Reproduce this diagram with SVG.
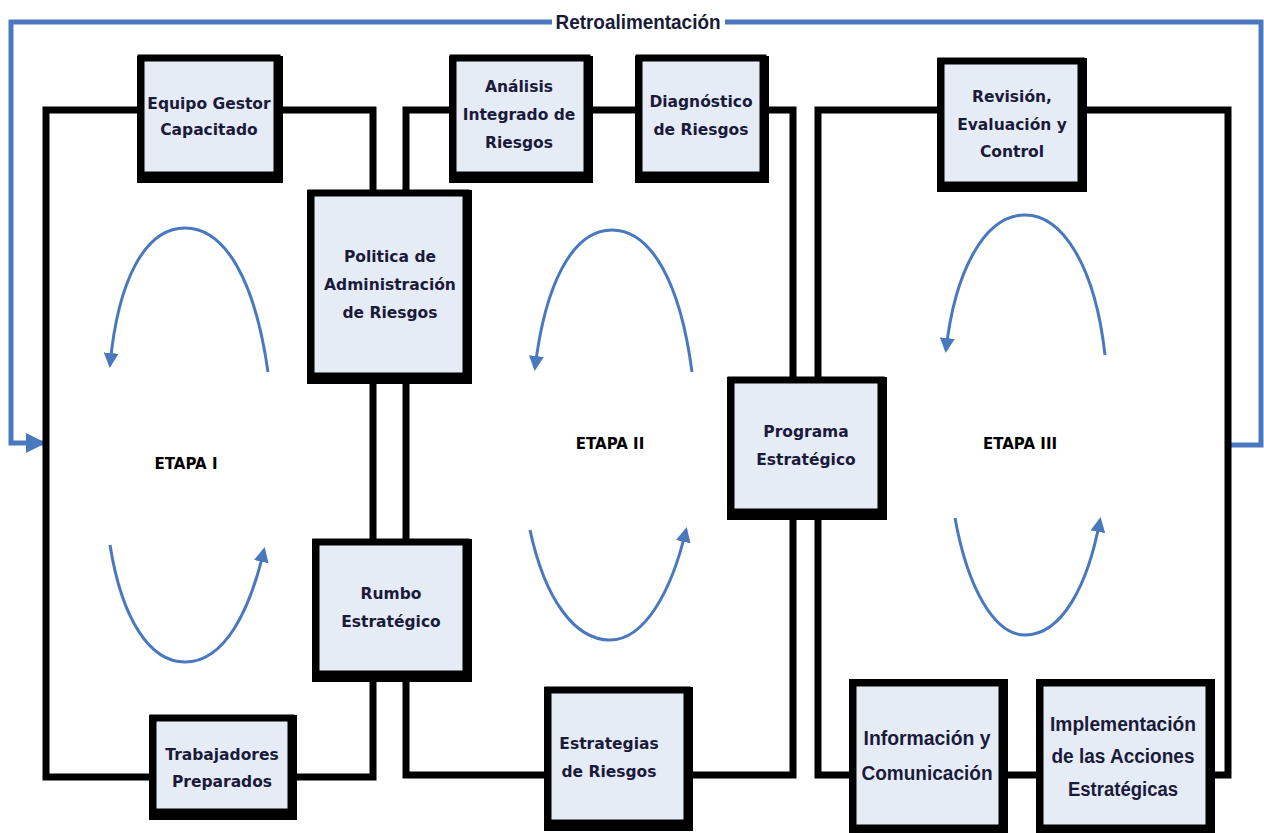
<svg xmlns="http://www.w3.org/2000/svg" width="1264" height="833" viewBox="0 0 1264 833">
<style>
.frame{fill:none;stroke:#000;stroke-width:7;stroke-linejoin:miter;stroke-linecap:square}
.fb{fill:none;stroke:#4A78BE;stroke-width:5}
.box{fill:#E6ECF6;stroke:#000;stroke-width:7}
.sh{fill:#000}
.t{font-family:"DejaVu Sans",Verdana,sans-serif;font-weight:bold;font-size:15.5px;fill:#1a1a3a;text-anchor:middle}
.a{font-family:"Liberation Sans",Arial,sans-serif;font-weight:bold;font-size:20px;fill:#1a1a3a;text-anchor:middle}
.et{font-family:"DejaVu Sans",Verdana,sans-serif;font-weight:bold;font-size:15px;fill:#000;text-anchor:middle}
.arc{fill:none;stroke:#4A78BE;stroke-width:3}
</style>
<defs>
<marker id="ah" viewBox="0 0 10 10" refX="8" refY="5" markerWidth="5" markerHeight="5" orient="auto" markerUnits="strokeWidth">
<path d="M0,0 L10,5 L0,10 z" fill="#4A78BE"/>
</marker>
<marker id="fbh" viewBox="0 0 10 10" refX="9" refY="5" markerWidth="4" markerHeight="4" orient="auto" markerUnits="strokeWidth">
<path d="M0,0 L10,5 L0,10 z" fill="#4A78BE"/>
</marker>
</defs>
<rect width="1264" height="833" fill="#fff"/>

<g id="connectors">
<path class="fb" d="M1228,445 H1261 V22 H11 V443 H44" marker-end="url(#fbh)"/>
<path class="frame" d="M373,190 V110 H46 V777 H373 V678"/>
<path class="frame" d="M373,380 V540"/>
<path class="frame" d="M406,190 V110 H793 V378"/>
<path class="frame" d="M406,380 V540"/>
<path class="frame" d="M406,678 V775 H793 V515"/>
<path class="frame" d="M818,378 V110 H1228 V775 H818 V515"/>
<path class="arc" d="M268,372 C255,280 225,228 185,228 C145,228 118,280 110,365" marker-end="url(#ah)"/>
<path class="arc" d="M110,545 C122,620 150,662 185,662 C225,662 250,610 264,550" marker-end="url(#ah)"/>
<path class="arc" d="M692,372 C680,280 650,230 612,230 C572,230 545,285 535,368" marker-end="url(#ah)"/>
<path class="arc" d="M530,530 C545,600 575,640 610,640 C645,640 672,590 686,530" marker-end="url(#ah)"/>
<path class="arc" d="M1105,355 C1095,265 1062,215 1025,215 C985,215 955,270 946,350" marker-end="url(#ah)"/>
<path class="arc" d="M955,518 C968,590 995,635 1025,635 C1062,635 1088,585 1100,520" marker-end="url(#ah)"/>
</g>

<rect x="552" y="10" width="173" height="24" fill="#fff"/>
<text class="a" x="638" y="29" textLength="165" lengthAdjust="spacingAndGlyphs">Retroalimentación</text>

<g id="n-equipo">
<rect class="sh" x="137" y="56" width="146" height="127"/>
<rect class="box" x="141" y="58" width="136" height="117"/>
<text class="t" x="209" y="109">Equipo Gestor</text>
<text class="t" x="209" y="135">Capacitado</text>
</g>
<g id="n-analisis">
<rect class="sh" x="449" y="56" width="144" height="127"/>
<rect class="box" x="453" y="58" width="134" height="117"/>
<text class="t" x="519" y="92">Análisis</text>
<text class="t" x="519" y="120">Integrado de</text>
<text class="t" x="519" y="148">Riesgos</text>
</g>
<g id="n-diagnostico">
<rect class="sh" x="635" y="56" width="134" height="127"/>
<rect class="box" x="639" y="58" width="124" height="117"/>
<text class="t" x="701" y="107">Diagnóstico</text>
<text class="t" x="701" y="135">de Riesgos</text>
</g>
<g id="n-revision">
<rect class="sh" x="937" y="58" width="150" height="134"/>
<rect class="box" x="941" y="61" width="140" height="124"/>
<text class="t" x="1012" y="102">Revisión,</text>
<text class="t" x="1012" y="130">Evaluación y</text>
<text class="t" x="1012" y="157">Control</text>
</g>
<g id="n-politica">
<rect class="sh" x="307" y="190" width="165" height="194"/>
<rect class="box" x="311" y="193" width="155" height="183"/>
<text class="t" x="390" y="262">Politica de</text>
<text class="t" x="390" y="290">Administración</text>
<text class="t" x="390" y="318">de Riesgos</text>
</g>
<g id="n-rumbo">
<rect class="sh" x="312" y="539" width="160" height="143"/>
<rect class="box" x="316" y="542" width="150" height="132"/>
<text class="t" x="391" y="599">Rumbo</text>
<text class="t" x="391" y="627">Estratégico</text>
</g>
<g id="n-trabajadores">
<rect class="sh" x="149" y="715" width="148" height="105"/>
<rect class="box" x="153" y="718" width="138" height="94"/>
<text class="t" x="222" y="760">Trabajadores</text>
<text class="t" x="222" y="787">Preparados</text>
</g>
<g id="n-estrategias">
<rect class="sh" x="544" y="687" width="149" height="144"/>
<rect class="box" x="548" y="690" width="139" height="133"/>
<text class="t" x="609" y="749">Estrategias</text>
<text class="t" x="609" y="777">de Riesgos</text>
</g>
<g id="n-programa">
<rect class="sh" x="727" y="377" width="160" height="143"/>
<rect class="box" x="731" y="380" width="150" height="132"/>
<text class="t" x="806" y="437">Programa</text>
<text class="t" x="806" y="465">Estratégico</text>
</g>
<g id="n-informacion">
<rect class="sh" x="849" y="679" width="159" height="154"/>
<rect class="box" x="853" y="683" width="149" height="145"/>
<text class="a" x="927" y="745" textLength="127" lengthAdjust="spacingAndGlyphs">Información y</text>
<text class="a" x="927" y="780" textLength="131" lengthAdjust="spacingAndGlyphs">Comunicación</text>
</g>
<g id="n-implementacion">
<rect class="sh" x="1036" y="679" width="179" height="154"/>
<rect class="box" x="1040" y="683" width="169" height="145"/>
<text class="a" x="1123" y="731" textLength="146" lengthAdjust="spacingAndGlyphs">Implementación</text>
<text class="a" x="1123" y="763" textLength="143" lengthAdjust="spacingAndGlyphs">de las Acciones</text>
<text class="a" x="1123" y="796" textLength="110" lengthAdjust="spacingAndGlyphs">Estratégicas</text>
</g>

<g id="labels">
<text class="et" x="186" y="469">ETAPA I</text>
<text class="et" x="610" y="449">ETAPA II</text>
<text class="et" x="1020" y="449">ETAPA III</text>
</g>
</svg>
